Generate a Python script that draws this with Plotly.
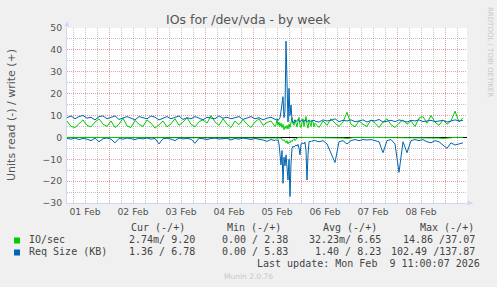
import pandas as pd
import plotly.graph_objects as go

# ---------------- data ----------------
# three sampling segments: 2 h steps, 30 min steps around the Feb 5 burst, 2 h steps
seg_a_start, seg_a_n, seg_a_freq = "2026-02-01 03:00", 53, "2h"
seg_b_start, seg_b_n, seg_b_freq = "2026-02-05 11:30", 40, "30min"
seg_c_start, seg_c_n, seg_c_freq = "2026-02-06 09:00", 37, "2h"

io_write_a = [7.5, 5.0, 4.5, 6.5, 8.0, 5.5, 4.8, 7.0, 8.5, 6.0, 5.0, 7.5, 4.5, 6.0, 8.8, 5.2, 4.5, 7.8, 6.0, 5.0,
              8.0, 6.5, 4.2, 5.8, 7.5, 4.8, 6.2, 8.5, 5.5, 7.0, 9.0, 6.0, 4.8, 7.2, 8.0, 6.5, 10.0, 7.0, 5.5, 8.5,
              6.0, 4.5, 7.5, 5.8, 8.2, 6.0, 4.5, 7.0, 8.5, 5.5, 6.8, 7.5, 5.0]
io_write_b = [6.0, 8.0, 5.5, 7.0, 5.0, 6.5, 4.5, 6.0, 3.5, 5.0, 4.0, 5.5, 3.8, 6.0, 4.5, 7.0, 9.0, 6.5, 5.5, 8.0,
              6.0, 4.8, 7.5, 9.2, 5.5, 4.5, 6.8, 8.5, 5.0, 7.0, 9.5, 6.0, 4.2, 7.8, 6.5, 5.0, 8.0, 7.0, 4.8, 6.5]
io_write_c = [4.5, 7.5, 5.5, 8.5, 6.5, 5.0, 7.0, 11.5, 6.0, 4.8, 7.5, 6.0, 5.0, 8.0, 6.5, 4.5, 7.0, 8.5, 5.8, 4.5,
              6.5, 8.0, 6.0, 7.5, 5.0, 8.8, 9.5, 6.5, 10.0, 7.0, 5.5, 8.0, 6.0, 7.5, 12.0, 7.0, 9.0]

io_read_a = [0, 0, 0, 0, 0, 0, 0, 0, 0, 0, 0, 0, 0, 0, 0, 0, 0, 0, 0, 0,
             0, 0, 0, 0, 0, 0, 0, 0, 0, 0, 0, 0, 0, 0, 0, 0, 0, 0, 0, 0,
             0, 0, 0, 0, 0, 0, 0, 0, 0, 0, 0, 0, 0.2]
io_read_b = [0, 0, 0, 0, 0, 0.3, 0.8, 1.5, 1.0, 2.0, 2.5, 1.5, 3.0, 2.0, 2.5, 1.5, 2.0, 1.0, 0.5, 1.5,
             0.5, 0.3, 0, 0, 0, 0, 0, 0, 0, 0, 0, 0, 0, 0, 0, 0, 0, 0, 0, 0]
io_read_c = [0, 0, 0, 0, 0, 0.2, 0.3, 0.5, 0.2, 0, 0, 0, 0, 0, 0, 0, 0, 0, 0, 0,
             0, 0, 0, 0, 0, 0, 0, 0, 0, 0, 0.3, 0.5, 0.3, 0, 0, 0, 0]

req_write_a = [9.0, 9.8, 8.5, 9.5, 10.0, 8.8, 9.2, 8.0, 9.5, 9.8, 8.5, 9.0, 9.8, 8.2, 9.0, 9.5, 8.8, 8.0, 9.5, 9.0,
               8.5, 9.8, 9.2, 8.0, 8.8, 9.5, 8.5, 9.0, 9.8, 8.2, 9.0, 8.5, 9.5, 8.8, 8.0, 9.2, 9.0, 8.5, 9.8, 8.8,
               9.2, 8.5, 9.0, 9.5, 8.2, 8.8, 9.5, 8.5, 9.0, 8.0, 8.8, 9.2, 8.5]
req_write_b = [8.0, 8.5, 7.8, 8.2, 9.0, 12.0, 15.0, 18.6, 9.0, 12.0, 44.0, 25.0, 7.0, 22.4, 10.0, 14.8, 8.0, 6.5, 7.5, 8.0,
               7.2, 7.8, 8.2, 7.5, 7.0, 7.8, 8.0, 7.5, 7.2, 8.0, 7.8, 7.2, 7.5, 8.0, 7.6, 7.2, 7.8, 7.5, 8.0, 7.4]
req_write_c = [7.0, 8.0, 7.5, 7.8, 8.5, 7.2, 7.8, 7.5, 8.0, 7.2, 7.5, 8.0, 7.0, 7.8, 7.5, 8.2, 7.0, 7.5, 7.8, 7.2,
               8.0, 7.5, 7.0, 7.8, 7.5, 8.0, 7.2, 7.5, 7.8, 7.2, 7.5, 7.8, 7.0, 7.5, 8.0, 7.5, 7.8]

req_read_a = [0.5, 0.8, 0.3, 1.0, 0.5, 0.8, 1.5, 0.4, 2.0, 0.6, 0.3, 0.8, 2.5, 0.5, 0.8, 0.3, 0.6, 1.0, 0.4, 0.7,
              0.3, 0.8, 0.5, 3.0, 0.6, 0.4, 0.8, 1.5, 0.3, 0.7, 0.5, 0.8, 2.7, 0.4, 0.6, 1.0, 0.5, 0.3, 0.8, 0.6,
              0.4, 1.2, 0.5, 0.8, 0.3, 0.6, 1.0, 0.5, 0.8, 1.2, 1.8, 1.0, 1.5]
req_read_b = [1.0, 1.5, 1.0, 3.0, 8.0, 12.6, 6.0, 21.0, 9.0, 13.0, 8.0, 16.0, 19.5, 10.0, 27.0, 12.0, 5.0, 4.0, 4.5, 3.8,
              3.5, 4.0, 3.2, 5.0, 8.0, 3.0, 2.8, 2.5, 3.0, 2.2, 6.0, 19.5, 8.0, 2.0, 1.8, 2.0, 1.5, 1.8, 1.2, 1.5]
req_read_c = [2.0, 1.5, 3.0, 7.0, 11.5, 2.0, 1.5, 3.0, 1.5, 1.0, 1.5, 1.0, 1.2, 1.0, 1.5, 2.0, 7.0, 1.5, 1.0, 3.0,
              16.0, 2.0, 7.0, 1.5, 1.0, 1.5, 1.0, 2.0, 2.5, 1.5, 2.0, 3.5, 5.0, 2.5, 3.5, 3.0, 2.5]

series_names = ["IO/sec", "Req Size (KB)"]
series_colors = ["#00CC00", "#0066B3"]

legend_header = ["Cur (-/+)", "Min (-/+)", "Avg (-/+)", "Max (-/+)"]
legend_io = ["2.74m/ 9.20", "0.00 / 2.38", "32.23m/ 6.65", "14.86 /37.07"]
legend_req = ["1.36 / 6.78", "0.00 / 5.83", "1.40 / 8.23", "102.49 /137.87"]

title_text = "IOs for /dev/vda - by week"
y_title = "Units read (-) / write (+)"
last_update = "Last update: Mon Feb  9 11:00:07 2026"
munin_version = "Munin 2.0.76"
rrd_credit = "RRDTOOL / TOBI OETIKER"

times = (list(pd.date_range(seg_a_start, periods=seg_a_n, freq=seg_a_freq))
         + list(pd.date_range(seg_b_start, periods=seg_b_n, freq=seg_b_freq))
         + list(pd.date_range(seg_c_start, periods=seg_c_n, freq=seg_c_freq)))
io_write = io_write_a + io_write_b + io_write_c
io_read = io_read_a + io_read_b + io_read_c
req_write = req_write_a + req_write_b + req_write_c
req_read = req_read_a + req_read_b + req_read_c

# ---------------- geometry helpers ----------------
W, H = 497, 287
PL, PR, PT, PB = 67, 467, 28, 203


def px(x):
    return (x - PL) / (PR - PL)


def py(y):
    return (PB - y) / (PB - PT)


fig = go.Figure()

for name, color, rd, wr in [(series_names[0], series_colors[0], io_read, io_write),
                            (series_names[1], series_colors[1], req_read, req_write)]:
    fig.add_trace(go.Scatter(x=times, y=[-v for v in rd], mode="lines",
                             line=dict(color=color, width=1), showlegend=False, name=name))
    fig.add_trace(go.Scatter(x=times, y=wr, mode="lines",
                             line=dict(color=color, width=1), showlegend=False, name=name))

major_grid = "rgba(222,79,79,0.55)"
minor_grid = "rgba(143,143,143,0.55)"
axis_col = "#CFD6F8"
font_col = "#555555"

fig.update_layout(
    width=W, height=H,
    margin=dict(l=PL, r=W - PR, t=PT, b=H - PB),
    paper_bgcolor="#F0F0F0", plot_bgcolor="#FFFFFF",
    font=dict(family="DejaVu Sans", color=font_col, size=9.3),
    showlegend=False,
    xaxis=dict(
        type="date",
        range=["2026-02-01 03:00", "2026-02-09 11:00"],
        tick0="2026-02-01", dtick=86400000,
        ticklabelmode="period", tickformat="%d %b",
        showgrid=True, gridcolor=major_grid, griddash="1px,1px", gridwidth=1,
        minor=dict(dtick=6 * 3600000, tick0="2026-02-01", showgrid=True,
                   gridcolor=minor_grid, griddash="1px,1px", gridwidth=1),
        showline=True, linecolor=axis_col, linewidth=1,
        ticks="", zeroline=False,
        tickfont=dict(size=9.3, color=font_col),
    ),
    yaxis=dict(
        range=[-30, 50], dtick=10, tick0=0,
        showgrid=True, gridcolor=major_grid, griddash="1px,1px", gridwidth=1,
        minor=dict(dtick=5, showgrid=True, gridcolor=minor_grid, griddash="1px,1px", gridwidth=1),
        showline=True, linecolor=axis_col, linewidth=1,
        zeroline=True, zerolinecolor="#000000", zerolinewidth=1,
        ticks="", ticklabelstandoff=2,
        tickfont=dict(size=9.3, color=font_col),
    ),
)

ann = []
ann.append(dict(text=title_text, x=px(248.5), y=py(19), xref="paper", yref="paper",
                showarrow=False, xanchor="center", yanchor="middle",
                font=dict(size=12.5, color="#555555", family="DejaVu Sans")))
ann.append(dict(text=y_title, x=px(11), y=py(115), xref="paper", yref="paper",
                showarrow=False, xanchor="center", yanchor="middle", textangle=-90,
                font=dict(size=11, color=font_col, family="DejaVu Sans")))
ann.append(dict(text=rrd_credit, x=px(490), y=py(52), xref="paper", yref="paper",
                showarrow=False, xanchor="center", yanchor="middle", textangle=90,
                font=dict(size=7, color="#C8C8C8", family="DejaVu Sans")))

mono = dict(family="DejaVu Sans Mono", size=10, color="#444444")


def txt(s, x, y, anchor="right", font=mono):
    ann.append(dict(text=s, x=px(x), y=py(y), xref="paper", yref="paper", showarrow=False,
                    xanchor=anchor, yanchor="middle", font=font))


hdr_ends = [187.3, 283.3, 379.3, 476.0]
for s, e in zip(legend_header, hdr_ends):
    txt(s, e, 227.5)

val_ends = [197.3, 290.0, 383.3, 476.7]
for s, e in zip(legend_io, val_ends):
    txt(s, e, 239.7)
for s, e in zip(legend_req, val_ends):
    txt(s, e, 251.7)

txt(series_names[0], 26.7, 239.7, anchor="left")
txt(series_names[1], 26.7, 251.7, anchor="left")
txt(last_update, 482, 263.5)
txt(munin_version, 248, 276.3, anchor="center",
    font=dict(family="DejaVu Sans", size=7.5, color="#C8C8C8"))

fig.update_layout(annotations=ann)

shapes = []
for color, yc in zip(series_colors, [240.5, 252.5]):
    shapes.append(dict(type="rect", xref="paper", yref="paper",
                       x0=px(14), x1=px(20), y0=py(yc - 3), y1=py(yc + 3),
                       fillcolor=color, line=dict(width=0)))
shapes.append(dict(type="path", xref="paper", yref="paper",
                   path=f"M {px(64.5)} {py(26.5)} L {px(69.5)} {py(26.5)} L {px(67)} {py(21)} Z",
                   fillcolor=axis_col, line=dict(width=0)))
shapes.append(dict(type="path", xref="paper", yref="paper",
                   path=f"M {px(467.5)} {py(200.5)} L {px(467.5)} {py(205.5)} L {px(473.5)} {py(203)} Z",
                   fillcolor=axis_col, line=dict(width=0)))
fig.update_layout(shapes=shapes)

fig.write_html("out.html")
